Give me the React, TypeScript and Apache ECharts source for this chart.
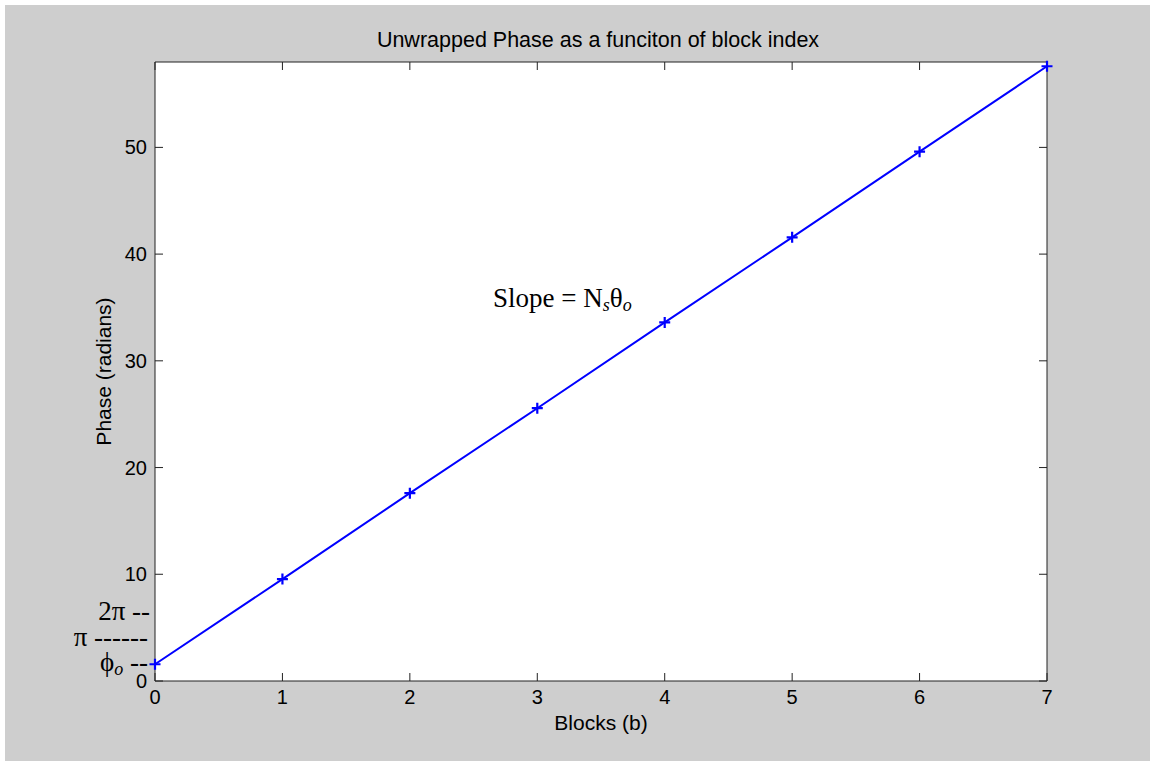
import React, { useEffect, useRef } from "react";
import * as echarts from "echarts";

const blocks = [0, 1, 2, 3, 4, 5, 6, 7];
const phase = [1.57, 9.55, 17.6, 25.56, 33.6, 41.57, 49.6, 57.6];
const yTickValues = [0, 10, 20, 30, 40, 50];
const xTickValues = [0, 1, 2, 3, 4, 5, 6, 7];
const titleText = "Unwrapped Phase as a funciton of block index";
const xName = "Blocks (b)";
const yName = "Phase (radians)";

const SANS = "Liberation Sans, Arial, Helvetica, sans-serif";
const SERIF = "Liberation Serif, Times New Roman, serif";
const AXIS_COLOR = "#222";
const TICK_LEN = 8;

export default function App() {
  const ref = useRef<HTMLDivElement>(null);
  useEffect(() => {
    if (!ref.current) return;
    const chart = echarts.init(ref.current, null, { renderer: "svg" });
    const richBase = {
      a: { fontFamily: SERIF, fontSize: 27, color: "#000", lineHeight: 32, verticalAlign: "middle" },
      sub: { fontFamily: SERIF, fontSize: 18, fontStyle: "italic", color: "#000", lineHeight: 32, verticalAlign: "bottom" },
    };
    const tickStyle = { stroke: AXIS_COLOR, lineWidth: 1 };
    chart.setOption({
      animation: false,
      backgroundColor: "#cecece",
      title: {
        text: titleText,
        left: 588,
        textAlign: "center",
        top: 19,
        textStyle: { fontFamily: SANS, fontSize: 21.5, fontWeight: "normal", color: "#000" },
      },
      grid: {
        left: 150,
        top: 57,
        right: 103,
        bottom: 80,
        show: true,
        backgroundColor: "#ffffff",
        borderWidth: 1,
        borderColor: AXIS_COLOR,
      },
      xAxis: {
        type: "value",
        min: 0,
        max: 7,
        interval: 1,
        position: "bottom",
        name: xName,
        nameLocation: "middle",
        nameGap: 29,
        nameTextStyle: { fontFamily: SANS, fontSize: 21, color: "#000" },
        axisLine: { show: false },
        axisTick: { show: false },
        splitLine: { show: false },
        axisLabel: { show: true, margin: 6, fontFamily: SANS, fontSize: 20, color: "#000", customValues: xTickValues },
      },
      yAxis: {
        type: "value",
        min: 0,
        max: 58,
        interval: 10,
        position: "left",
        name: yName,
        nameLocation: "middle",
        nameGap: 37,
        nameTextStyle: { fontFamily: SANS, fontSize: 21, color: "#000" },
        axisLine: { show: false },
        axisTick: { show: false },
        splitLine: { show: false },
        axisLabel: { show: true, margin: 8, fontFamily: SANS, fontSize: 20, color: "#000", customValues: yTickValues },
      },
      series: [
        {
          type: "custom",
          silent: true,
          clip: false,
          z: 3,
          data: xTickValues.map((v) => [v, 0]),
          renderItem: (params: any, api: any) => {
            const cs = params.coordSys;
            const p = api.coord([api.value(0), 0]);
            return {
              type: "group",
              children: [
                { type: "line", shape: { x1: p[0], y1: cs.y + cs.height, x2: p[0], y2: cs.y + cs.height - TICK_LEN }, style: tickStyle },
                { type: "line", shape: { x1: p[0], y1: cs.y, x2: p[0], y2: cs.y + TICK_LEN }, style: tickStyle },
              ],
            };
          },
        },
        {
          type: "custom",
          silent: true,
          clip: false,
          z: 3,
          data: yTickValues.map((v) => [0, v]),
          renderItem: (params: any, api: any) => {
            const cs = params.coordSys;
            const p = api.coord([0, api.value(1)]);
            return {
              type: "group",
              children: [
                { type: "line", shape: { x1: cs.x, y1: p[1], x2: cs.x + TICK_LEN, y2: p[1] }, style: tickStyle },
                { type: "line", shape: { x1: cs.x + cs.width, y1: p[1], x2: cs.x + cs.width - TICK_LEN, y2: p[1] }, style: tickStyle },
              ],
            };
          },
        },
        {
          type: "line",
          data: blocks.map((b, i) => [b, phase[i]]),
          lineStyle: { color: "#0000ff", width: 2 },
          symbol: "path://M4,0H6V4H10V6H6V10H4V6H0V4H4Z",
          symbolSize: 11,
          showSymbol: true,
          itemStyle: { color: "#0000ff" },
          clip: false,
          z: 5,
        },
      ],
      graphic: [
        {
          type: "text",
          x: 488,
          y: 277,
          style: {
            text: "{a|Slope = N}{sub|s}{a|θ}{sub|o}",
            rich: richBase,
            fill: "#000",
          },
        },
        {
          type: "text",
          x: 145,
          y: 590,
          style: { text: "{a|2π --}", rich: richBase, align: "right", fill: "#000" },
        },
        {
          type: "text",
          x: 143,
          y: 616,
          style: { text: "{a|π ------}", rich: richBase, align: "right", fill: "#000" },
        },
        {
          type: "text",
          x: 143,
          y: 641,
          style: { text: "{a|ϕ}{sub|o}{a| --}", rich: richBase, align: "right", fill: "#000" },
        },
      ],
    });
    return () => chart.dispose();
  }, []);
  return (
    <div style={{ position: "fixed", left: 0, top: 0, width: 1150, height: 761, background: "#ffffff" }}>
      <div ref={ref} style={{ position: "absolute", left: 5, top: 5, width: 1145, height: 756 }} />
    </div>
  );
}
